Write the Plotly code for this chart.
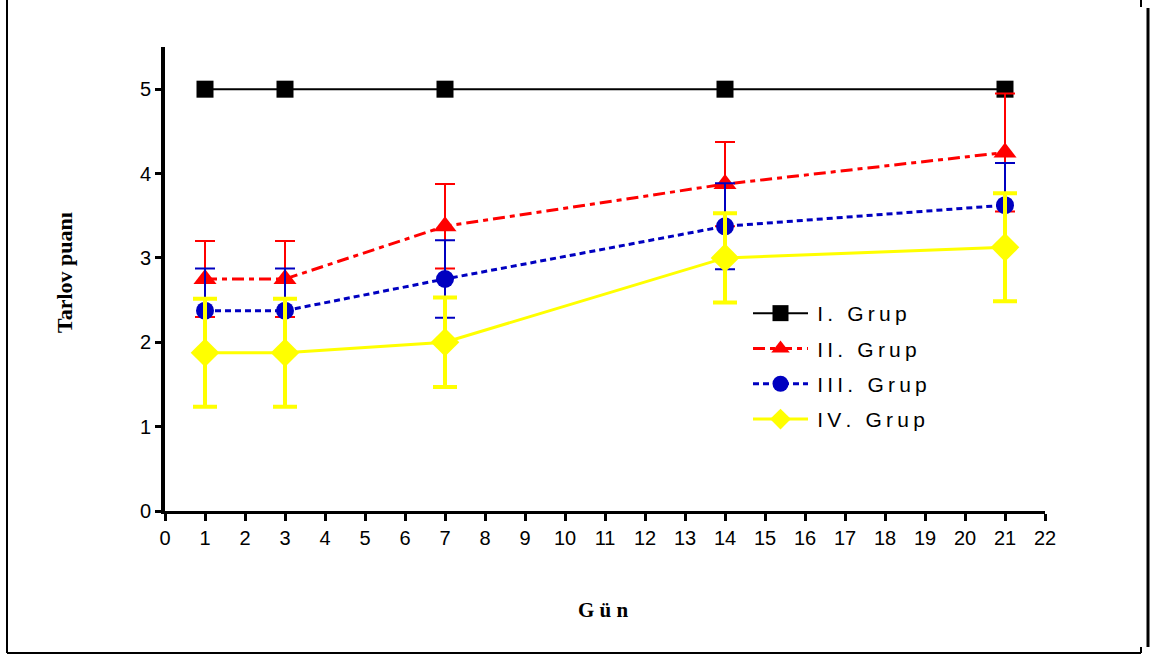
import plotly.graph_objects as go

days = [1, 3, 7, 14, 21]
g1 = [5, 5, 5, 5, 5]
g2 = [2.75, 2.75, 3.375, 3.875, 4.25]
g2_err = [0.45, 0.45, 0.5, 0.5, 0.7]
g3 = [2.375, 2.375, 2.75, 3.375, 3.625]
g3_err = [0.5, 0.5, 0.46, 0.51, 0.5]
g4 = [1.875, 1.875, 2.0, 3.0, 3.125]
g4_err = [0.64, 0.64, 0.53, 0.53, 0.64]
group_labels = ["I. Grup", "II. Grup", "III. Grup", "IV. Grup"]
x_ticks = list(range(0, 23))
y_ticks = [0, 1, 2, 3, 4, 5]


def spaced(s):
    # widen letter spacing like the reference legend
    return "\u2009" + "\u2009".join(s)


names = [spaced(s) for s in group_labels]

W, H = 1150, 657
ML, MR, MT, MB = 165, 105, 47, 146
PW, PH = W - ML - MR, H - MT - MB


def fx(px):
    return (px - ML) / PW


def fy(py):
    return (H - MB - py) / PH


fig = go.Figure()
fig.add_trace(go.Scatter(
    x=days, y=g1, name=names[0], mode="lines+markers", legendgroup="a",
    line=dict(color="black", width=2),
    marker=dict(symbol="square", size=17, color="black")))
fig.add_trace(go.Scatter(
    x=days, y=g2, name=names[1], mode="lines+markers", legendgroup="b",
    line=dict(color="#ff0000", width=3, dash="12px,5px,5px,5px"),
    marker=dict(symbol="triangle-up", size=20, color="#ff0000"),
    error_y=dict(type="data", array=g2_err, color="#ff0000", thickness=2, width=10)))
fig.add_trace(go.Scatter(
    x=days, y=g3, name=names[2], mode="lines+markers", legendgroup="c",
    line=dict(color="#0000c0", width=3, dash="6px,4px"),
    marker=dict(symbol="circle", size=18, color="#0000c0"),
    error_y=dict(type="data", array=g3_err, color="#0000c0", thickness=2, width=10)))
fig.add_trace(go.Scatter(
    x=days, y=g4, name=names[3], mode="lines+markers", legendgroup="d",
    line=dict(color="#ffff00", width=3),
    marker=dict(symbol="diamond", size=22, color="#ffff00"),
    error_y=dict(type="data", array=g4_err, color="#ffff00", thickness=4, width=12)))

line_style = dict(color="black", width=2)
shapes = [
    dict(type="line", xref="paper", yref="paper", x0=fx(7), x1=fx(7), y0=fy(0), y1=fy(653), line=line_style),
    dict(type="line", xref="paper", yref="paper", x0=fx(7), x1=fx(1141), y0=fy(653), y1=fy(653), line=line_style),
    dict(type="line", xref="paper", yref="paper", x0=fx(1141), x1=fx(1141), y0=fy(647), y1=fy(653), line=line_style),
    dict(type="line", xref="paper", yref="paper", x0=fx(1141), x1=fx(1141), y0=fy(0), y1=fy(7), line=line_style),
    dict(type="line", xref="paper", yref="paper", x0=fx(1148), x1=fx(1148), y0=fy(8), y1=fy(647),
         line=dict(color="black", width=3)),
]

fig.update_layout(
    width=W, height=H,
    margin=dict(l=ML, r=MR, t=MT, b=MB, pad=0),
    paper_bgcolor="white", plot_bgcolor="white",
    font=dict(family="Liberation Sans, Arial, sans-serif", color="black", size=20),
    showlegend=True,
    legend=dict(x=fx(748), y=fy(293), xanchor="left", yanchor="top",
                bgcolor="rgba(0,0,0,0)", borderwidth=0, traceorder="grouped",
                tracegroupgap=5, font=dict(size=21), itemwidth=55),
    shapes=shapes,
    annotations=[
        dict(text="<b>G ü n</b>", xref="paper", yref="paper", x=fx(603), y=fy(610),
             xanchor="center", yanchor="middle", showarrow=False,
             font=dict(family="Liberation Serif, Times New Roman, serif", size=21)),
        dict(text="<b>Tarlov puanı</b>", xref="paper", yref="paper", x=fx(64), y=fy(273),
             xanchor="center", yanchor="middle", showarrow=False, textangle=-90,
             font=dict(family="Liberation Serif, Times New Roman, serif", size=22)),
    ],
)
fig.update_xaxes(range=[0, 22], tickvals=x_ticks, ticktext=[str(v) for v in x_ticks],
                 showgrid=False, zeroline=False, showline=True, linecolor="black", linewidth=3,
                 ticks="outside", ticklen=7, tickwidth=3, tickcolor="black")
fig.update_yaxes(range=[0, 5.5], tickvals=y_ticks, ticktext=[str(v) for v in y_ticks],
                 showgrid=False, zeroline=False, showline=True, linecolor="black", linewidth=4,
                 ticks="outside", ticklen=6, tickwidth=3, tickcolor="black")

fig.write_html("out.html", config={"displayModeBar": False},
               post_script="document.body.style.margin='0';document.body.style.overflow='hidden';")
